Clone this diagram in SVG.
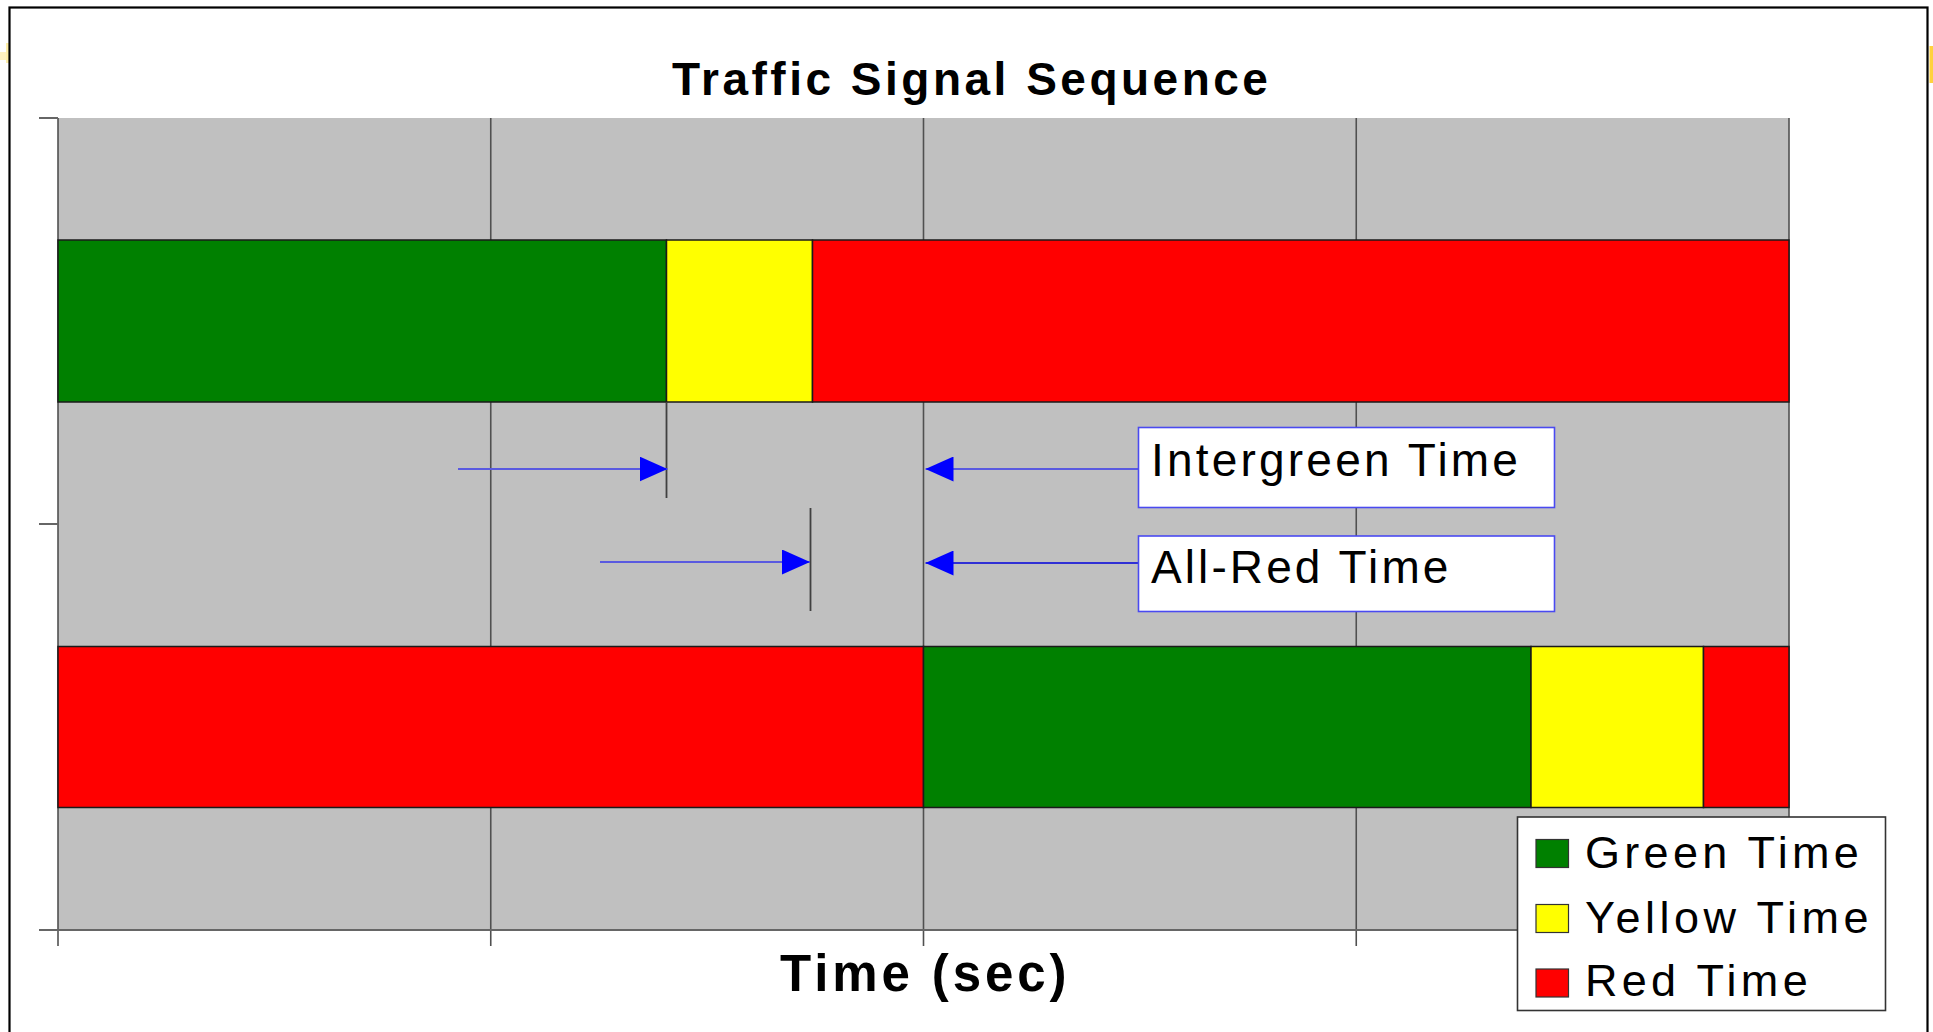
<svg xmlns="http://www.w3.org/2000/svg" width="1933" height="1032" viewBox="0 0 1933 1032">
  <defs>
    <style>
      .txt { font-family: "Liberation Sans", Arial, sans-serif; fill: #000; }
      .bold { font-weight: bold; }
      .grid { stroke: #505050; stroke-width: 1.6; fill: none; }
      .axis { stroke: #666; stroke-width: 2; fill: none; }
      .bar { stroke: #1a1a1a; stroke-width: 1.5; }
      .mark { stroke: #404040; stroke-width: 1.8; fill: none; }
      .annbox { fill: #fff; stroke: #4a4af0; stroke-width: 1.6; }
      .arr { stroke: #5a5ae0; stroke-width: 2.2; fill: none; marker-end: url(#ah); }
      .arr2 { stroke: #0000dd; stroke-width: 1.6; fill: none; marker-end: url(#ah); }
      .green { fill: #008000; }
      .yellow { fill: #ffff00; }
      .red { fill: #ff0000; }
    </style>
    <marker id="ah" viewBox="0 0 28 25" refX="28" refY="12.5" markerWidth="28" markerHeight="25" markerUnits="userSpaceOnUse" orient="auto">
      <path d="M0,0 L28,12.5 L0,25 Z" fill="#0000ff"/>
    </marker>
  </defs>

  <rect x="0" y="0" width="1933" height="1032" fill="#fff"/>
  <!-- small edge artifacts -->
  <rect x="0" y="52" width="8" height="8" fill="#fff2c0"/>
  <rect x="6" y="43" width="3" height="20" fill="#ffefa8"/>
  <rect x="1929.5" y="46" width="3.5" height="37" fill="#ffd23c"/>

  <!-- outer frame -->
  <rect id="frame" x="9.5" y="7.5" width="1918" height="1100" fill="#fff" stroke="#000" stroke-width="2.2"/>

  <g id="title">
    <text class="txt bold" x="672" y="95" font-size="46" letter-spacing="3.5">Traffic Signal Sequence</text>
  </g>

  <g id="plot">
    <rect x="58" y="118" width="1731" height="812" fill="#c0c0c0"/>
    <line class="grid" x1="58" y1="118" x2="58" y2="946"/>
    <line class="grid" x1="490.75" y1="118" x2="490.75" y2="946"/>
    <line class="grid" x1="923.5" y1="118" x2="923.5" y2="946"/>
    <line class="grid" x1="1356.25" y1="118" x2="1356.25" y2="946"/>
    <line class="grid" x1="1789" y1="118" x2="1789" y2="946"/>
    <line class="axis" x1="39" y1="930" x2="1789" y2="930"/>
    <line class="axis" x1="39" y1="118" x2="58" y2="118"/>
    <line class="axis" x1="39" y1="524" x2="58" y2="524"/>
  </g>

  <g id="phase1">
    <rect class="bar green" x="58" y="240" width="608.5" height="162"/>
    <rect class="bar yellow" x="666.5" y="240" width="146" height="162"/>
    <rect class="bar red" x="812.5" y="240" width="976.5" height="162"/>
  </g>

  <g id="phase2">
    <rect class="bar red" x="58" y="646.5" width="865.5" height="161"/>
    <rect class="bar green" x="923.5" y="646.5" width="607.5" height="161"/>
    <rect class="bar yellow" x="1531" y="646.5" width="172.5" height="161"/>
    <rect class="bar red" x="1703.5" y="646.5" width="85.5" height="161"/>
  </g>

  <g id="markers">
    <line class="mark" x1="666.5" y1="402" x2="666.5" y2="498"/>
    <line class="mark" x1="810.5" y1="508" x2="810.5" y2="611"/>
  </g>

  <g id="connectors">
    <line class="arr" x1="458" y1="469" x2="667.5" y2="469"/>
    <line class="arr" x1="1138.5" y1="469" x2="925.5" y2="469"/>
    <line class="arr" x1="600" y1="562" x2="810" y2="562"/>
    <line class="arr2" x1="1138.5" y1="563" x2="925.5" y2="563"/>
  </g>

  <g id="intergreen-label">
    <rect class="annbox" x="1138.5" y="427.5" width="416" height="80"/>
    <text class="txt" x="1151" y="475.5" font-size="46" letter-spacing="3.2">Intergreen Time</text>
  </g>

  <g id="allred-label">
    <rect class="annbox" x="1138.5" y="536" width="416" height="75.5"/>
    <text class="txt" x="1151" y="582.5" font-size="46" letter-spacing="3.1">All-Red Time</text>
  </g>

  <g id="axis-title">
    <text class="txt bold" x="780" y="991" font-size="51" letter-spacing="3.9">Time (sec)</text>
  </g>

  <g id="legend">
    <rect x="1517.5" y="817" width="368" height="193.5" fill="#fff" stroke="#333" stroke-width="1.6"/>
    <rect class="green" x="1536" y="839.5" width="32.5" height="28" stroke="#333" stroke-width="1.2"/>
    <rect class="yellow" x="1536" y="904.5" width="32.5" height="28" stroke="#333" stroke-width="1.2"/>
    <rect class="red" x="1536" y="969" width="32.5" height="28" stroke="#333" stroke-width="1.2"/>
    <text class="txt" x="1585" y="867.5" font-size="45" letter-spacing="4.3">Green Time</text>
    <text class="txt" x="1585" y="932.5" font-size="45" letter-spacing="4.5">Yellow Time</text>
    <text class="txt" x="1585" y="996" font-size="45" letter-spacing="4.3">Red Time</text>
  </g>
</svg>
